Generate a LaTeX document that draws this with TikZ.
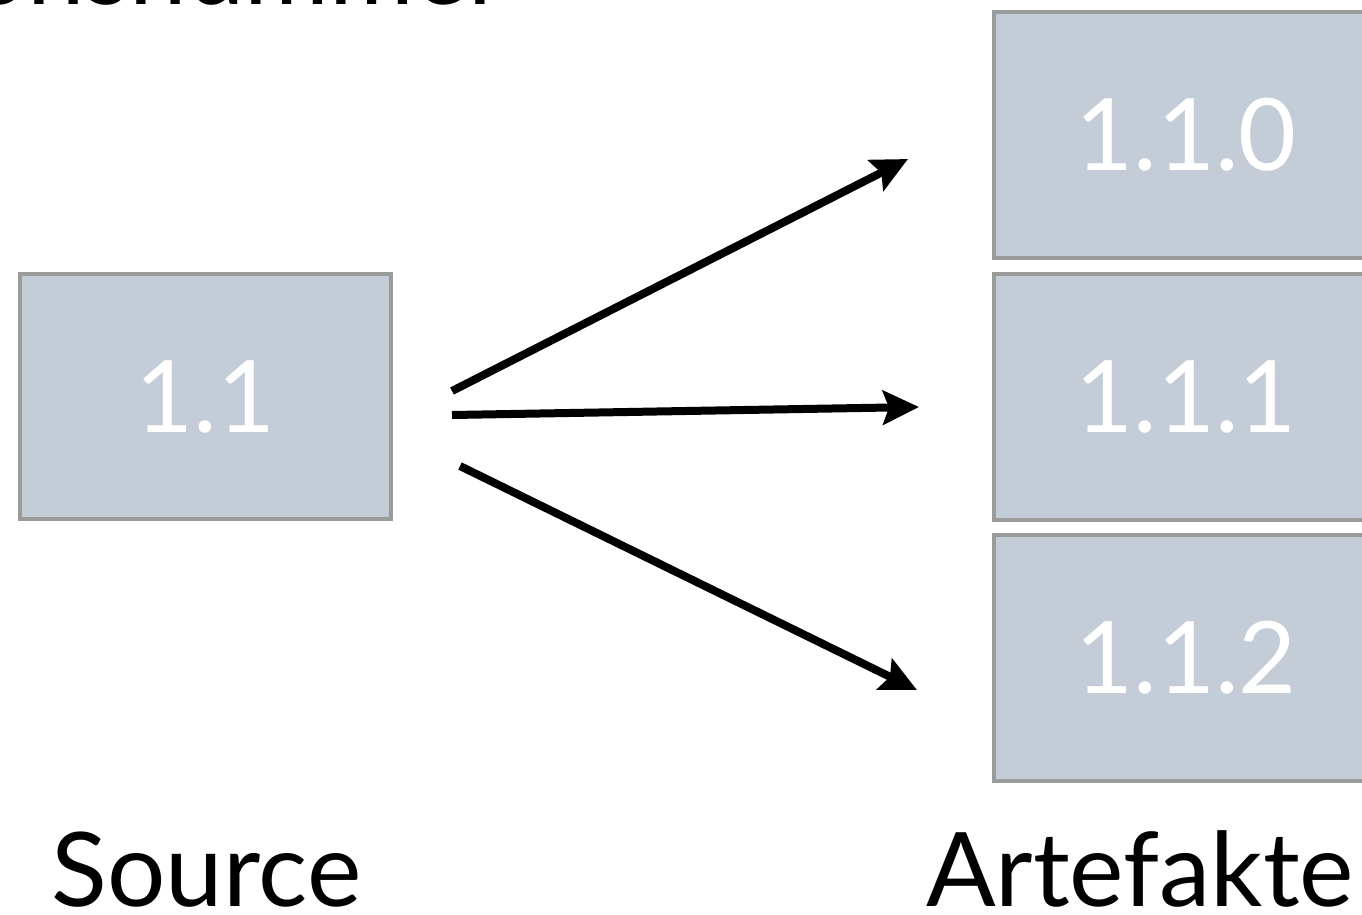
\documentclass[tikz,border=0pt]{standalone}
\usepackage{fontspec}
\setmainfont{Lato}
\usetikzlibrary{arrows.meta}
\definecolor{boxfill}{RGB}{195,204,215}
\definecolor{boxline}{RGB}{155,155,155}
\tikzset{
  verbox/.style={draw=boxline, line width=4pt, fill=boxfill, inner sep=0pt,
    text=white, font=\fontsize{100}{110}\selectfont},
  srcbox/.style={verbox, minimum width=371pt, minimum height=245pt},
  artbox/.style={verbox, minimum width=384pt, minimum height=246pt},
  biglabel/.style={inner sep=0pt, font=\fontsize{103}{120}\selectfont, text=black},
  arrowline/.style={line width=8pt, -{Stealth[length=36pt,width=34pt,inset=6pt]}}
}
\begin{document}
\begin{tikzpicture}[x=1pt,y=-1pt]
\useasboundingbox (0,0) rectangle (1362,914);
\fill[white] (0,0) rectangle (1362,914);
% title, cut off at the top edge
\node[biglabel, anchor=base east] (title) at (506,4) {Versionsnummer};
% boxes
\node[srcbox] (src) at (205.5,396.5) {1.1};
\node[artbox] (a0) at (1186,135) {1.1.0};
\node[artbox] (a1) at (1186,397) {1.1.1};
\node[artbox] (a2) at (1186,657.5) {1.1.2};
% arrow endpoints
\coordinate (s0) at (452,391);
\coordinate (s1) at (452,415);
\coordinate (s2) at (460,466);
\coordinate (t0) at (908,159);
\coordinate (t1) at (919,407);
\coordinate (t2) at (917,690);
\draw[arrowline] (s0) -- (t0);
\draw[arrowline] (s1) -- (t1);
\draw[arrowline] (s2) -- (t2);
% labels
\node[biglabel, anchor=base] (lsrc) at (206.5,906) {Source};
\node[biglabel, anchor=base] (lart) at (1140,906) {Artefakte};
\end{tikzpicture}
\end{document}
